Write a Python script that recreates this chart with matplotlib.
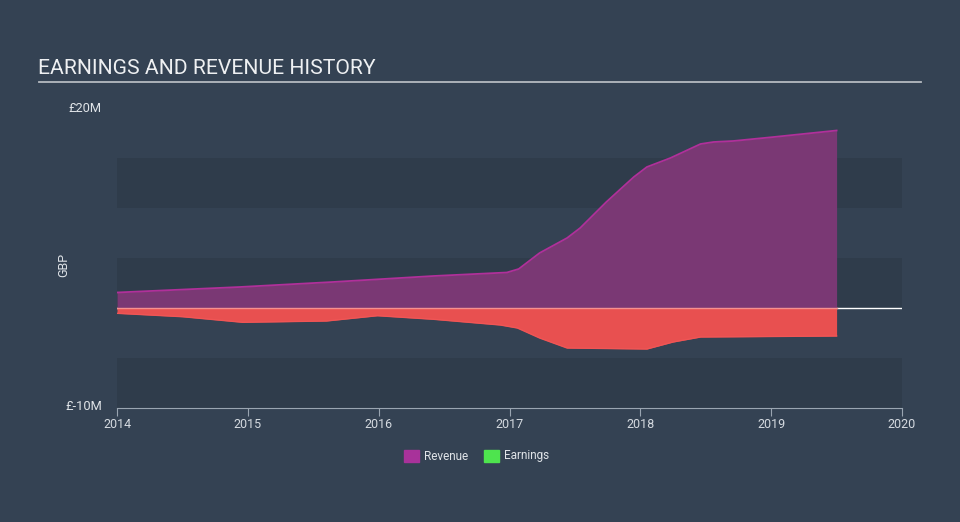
import matplotlib.pyplot as plt

plt.rcParams['font.family'] = ['Roboto', 'DejaVu Sans']

# data (GBP millions)
rev_years = [2014.0, 2014.94, 2015.65, 2016.42, 2016.98, 2017.07, 2017.23, 2017.44,
             2017.54, 2017.74, 2017.95, 2018.05, 2018.23, 2018.46, 2018.56, 2018.71,
             2019.02, 2019.5]
revenue = [1.55, 2.1, 2.6, 3.2, 3.55, 3.9, 5.5, 7.0,
           8.0, 10.6, 13.1, 14.1, 15.0, 16.4, 16.6, 16.7,
           17.1, 17.75]

earn_years = [2014.0, 2014.5, 2014.96, 2015.6, 2015.99, 2016.42, 2016.93, 2017.06,
              2017.23, 2017.44, 2018.05, 2018.25, 2018.46, 2019.5]
earnings = [-0.53, -0.87, -1.43, -1.3, -0.77, -1.13, -1.7, -2.0,
            -3.0, -4.0, -4.1, -3.4, -2.9, -2.8]

x_ticks = [2014, 2015, 2016, 2017, 2018, 2019, 2020]

bg = '#344253'
band = '#2f3c4b'

fig = plt.figure(figsize=(9.6, 5.22), dpi=100, facecolor=bg)
ax = fig.add_axes([0.1219, 0.2184, 0.8177, 0.5747])
ax.set_facecolor(bg)

# horizontal bands
for lo, hi in [(10, 15), (0, 5), (-10, -5)]:
    ax.axhspan(lo, hi, color=band, lw=0, zorder=0)

ax.axhline(0, color='white', lw=1, zorder=1)

ax.fill_between(rev_years, 0, revenue, color='#7a3874', lw=0, zorder=2)
ax.plot(rev_years, revenue, color='#b0309a', lw=1.3, zorder=3)
ax.fill_between(earn_years, 0, earnings, color='#e85050', lw=0, zorder=2)
ax.plot(earn_years, earnings, color='#f05555', lw=1, zorder=3)
ax.plot([earn_years[0], earn_years[-1]], [0, 0], color='#f59090', lw=1, zorder=3)

ax.set_xlim(2014, 2020)
ax.set_ylim(-10, 20)
ax.set_xticks(x_ticks)
ax.set_xticklabels([str(y) for y in x_ticks])
ax.set_yticks([])
for s in ['top', 'right', 'left']:
    ax.spines[s].set_visible(False)
ax.spines['bottom'].set_color('#9aa5b1')
ax.tick_params(axis='x', colors='#9aa5b1', labelcolor='#d5dae0', labelsize=9, length=6, pad=1)

# y labels
fig.text(102 / 960, 1 - 108 / 522, '£20M', color='#e0e4e8', fontsize=9.3, ha='right', va='center')
fig.text(102 / 960, 1 - 407 / 522, '£-10M', color='#e0e4e8', fontsize=9.3, ha='right', va='center')
fig.text(64 / 960, 1 - 265 / 522, 'GBP', color='#e0e4e8', fontsize=9, rotation=90, ha='center', va='center')

# title
fig.text(38 / 960, 1 - 69 / 522, 'EARNINGS AND REVENUE HISTORY', color='#eef0f2', fontsize=15.2, ha='left', va='center')
fig.add_artist(plt.Line2D([39 / 960, 921 / 960], [1 - 82 / 522, 1 - 82 / 522], color='#b5bac0', lw=1.3))

# legend
fig.patches.append(plt.Rectangle((404 / 960, 1 - 462 / 522), 15 / 960, 12 / 522, color='#a8329a', transform=fig.transFigure))
fig.text(424 / 960, 1 - 456 / 522, 'Revenue', color='#e0e4e8', fontsize=8.5, ha='left', va='center')
fig.patches.append(plt.Rectangle((484 / 960, 1 - 462 / 522), 15 / 960, 12 / 522, color='#4ee44e', transform=fig.transFigure))
fig.text(504 / 960, 1 - 456 / 522, 'Earnings', color='#e0e4e8', fontsize=8.5, ha='left', va='center')

fig.savefig('out.png', dpi=100, facecolor=bg)
